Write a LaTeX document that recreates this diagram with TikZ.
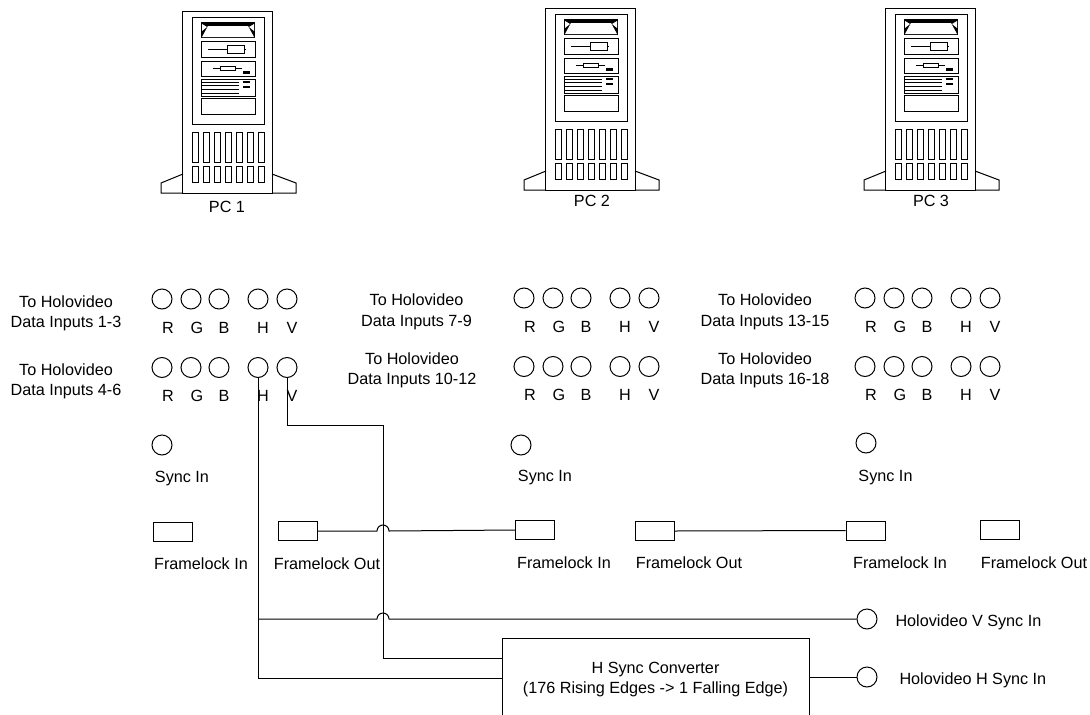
\documentclass[tikz,border=0pt]{standalone}
\usepackage{fontspec}
\setmainfont{Liberation Sans}
\usetikzlibrary{positioning}
\begin{document}
\begin{tikzpicture}[
  x=1pt, y=-1pt, line width=1pt,
  txt/.style={font=\fontsize{16.2}{20.5}\selectfont, align=center, inner sep=0pt},
  port/.style={draw, circle, minimum size=20pt, inner sep=0pt},
  lockbox/.style={draw, rectangle, minimum width=39pt, minimum height=19pt, inner sep=0pt},
  slab/.style={font=\fontsize{16.2}{18.5}\selectfont, inner sep=0pt},
  tower/.pic={
    \draw (-45,174) -- (-67,183) -- (-67,193) -- (-45,193);
    \draw (44,174) -- (68,183) -- (68,193) -- (44,193);
    \draw (-46,11) rectangle (44,193);
    \draw (-36,17) rectangle (36,124);
    \fill (-27,22) rectangle (27,38);
    \fill[white] (-20,26) -- (20,26) -- (26,37) -- (-26,37) -- cycle;
    \fill[white] (-26,24) -- (-21,27) -- (-26,31) -- cycle;
    \fill[white] (26,24) -- (21,27) -- (26,31) -- cycle;
    \draw (-27,41) rectangle (27,57);
    \draw (-20,49) -- (18,49);
    \draw[fill=white] (-1,45) rectangle (16,53);
    \draw (-27,61) rectangle (27,76);
    \draw (-15,68) -- (14,68);
    \draw[fill=white] (-8,66) rectangle (7,70);
    \fill (15,71) rectangle (22,74);
    \draw (-27,79) rectangle (27,96);
    \foreach \ly in {82,85,89,93}
      \draw[line width=.8pt] (-26,\ly) -- (11,\ly);
    \fill (15,81) rectangle (22,83);
    \fill (15,86) rectangle (22,88);
    \draw (-27,98) rectangle (27,114);
    \foreach \i in {0,...,6} {
      \draw (-36+11*\i,132) rectangle +(6,30);
      \draw (-36+11*\i,166) rectangle +(6,16);
    }
  }
]
\useasboundingbox (0,0) rectangle (1090,715);

\pic at (228,0) {tower};
\pic at (591,-3) {tower};
\pic at (931,-3) {tower};
\node[txt] at (227,207) {PC 1};
\node[txt] at (592,201) {PC 2};
\node[txt] at (931,201) {PC 3};

\foreach \n/\dx/\dy in {a/0/0,b/362/-1,c/703/-1} {
  \foreach \r/\ry/\ly in {u/299/328,d/367.5/396} {
    \foreach \p/\px/\pl/\ll in {R/162/168/R,G/191/197/G,B/219/224/B,H/258/263/H,V/287/292/V} {
      \node[port] (\p\r\n) at (\px+\dx,\ry+\dy) {};
      \node[slab] at (\pl+\dx,\ly+\dy) {\ll};
    }
  }
}

\node[txt] at (66,313.5) {To Holovideo\\Data Inputs 1-3};
\node[txt] at (66,381.5) {To Holovideo\\Data Inputs 4-6};
\node[txt] at (416.5,312) {To Holovideo\\Data Inputs 7-9};
\node[txt] at (412,370.5) {To Holovideo\\Data Inputs 10-12};
\node[txt] at (765,312) {To Holovideo\\Data Inputs 13-15};
\node[txt] at (765,370.5) {To Holovideo\\Data Inputs 16-18};

\node[port] (syncA) at (162,445) {};
\node[port] (syncB) at (521,445) {};
\node[port] (syncC) at (866,443) {};
\node[txt] at (182,479) {Sync In};
\node[txt] at (545,478) {Sync In};
\node[txt] at (885.5,478) {Sync In};

\node[lockbox] (inA) at (172.5,532) {};
\node[lockbox] (outA) at (298,531) {};
\node[lockbox] (inB) at (535,530) {};
\node[lockbox] (outB) at (655,531) {};
\node[lockbox] (inC) at (865.5,530.5) {};
\node[lockbox] (outC) at (999.5,529.5) {};
\node[txt] at (201,564) {Framelock In};
\node[txt] at (327,564) {Framelock Out};
\node[txt] at (564,563) {Framelock In};
\node[txt] at (689,563) {Framelock Out};
\node[txt] at (900,563) {Framelock In};
\node[txt] at (1034,563) {Framelock Out};

\node[port] (vsync) at (867,619) {};
\node[port] (hsync) at (867,677) {};
\node[txt, anchor=west] at (895,622) {Holovideo V Sync In};
\node[txt, anchor=west] at (899,680) {Holovideo H Sync In};

\node[draw, rectangle, minimum width=307pt, minimum height=77pt, inner sep=0pt, txt] (conv) at (655.5,677) {\rule{0pt}{16pt}H Sync Converter\\(176 Rising Edges -> 1 Falling Edge)};

\coordinate (turnV) at (383,425);
\coordinate (convV) at (conv.west |- 0,658);
\coordinate (convH) at (conv.west |- 0,678);
\coordinate (branch) at (Hda.south |- vsync);
\coordinate (hopA) at (377,531);
\coordinate (hopB) at (377,619);

\draw (Hda.south) |- (convH);
\draw (Vda.south) |- (turnV) |- (convV);
\draw (outA.east) -- (hopA) arc[start angle=180, end angle=0, radius=6pt] -- (inB.west);
\draw (branch) -- (hopB) arc[start angle=180, end angle=0, radius=6pt] -- (vsync.west);
\draw (outB.east) -- (inC.west);
\draw (conv.east |- hsync) -- (hsync.west);
\end{tikzpicture}
\end{document}
